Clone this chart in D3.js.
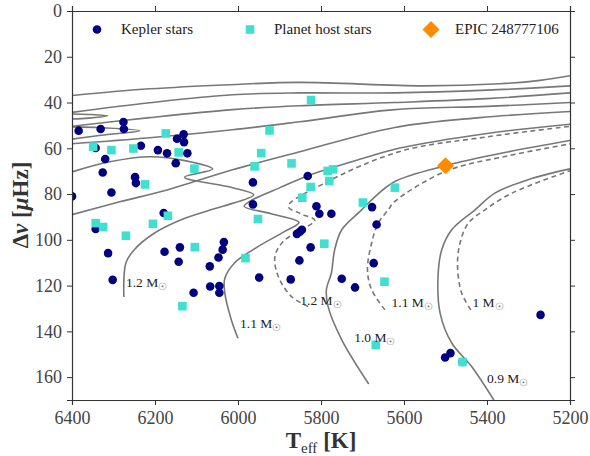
<!DOCTYPE html>
<html>
<head>
<meta charset="utf-8">
<script src="https://cdn.jsdelivr.net/npm/d3@7"></script>
<style>
  body { margin: 0; background: #fff; }
  text { font-family: "Liberation Serif", "DejaVu Serif", serif; }
</style>
</head>
<body>
<svg></svg>
<script>
// Kepler stars [Teff, dnu]
const keplerStars = [
  [6384,52.3],[6331,51.6],[6276,48.5],[6275,51.6],[6343,59.9],[6320,64.7],[6326,70.6],[6305,79.3],
  [6400,81.0],[6234,58.9],[6193,60.8],[6171,62.2],[6147,55.8],[6131,53.9],[6130,57.3],[6122,62.2],
  [6150,66.5],[6248,72.6],[6246,75.2],[6179,88.3],[6343,95.3],[6313,105.8],[6302,117.5],[6177,105.2],
  [6140,103.3],[6143,109.6],[6107,123.1],[6034,101.0],[6037,104.3],[6047,107.7],[6068,111.6],[6067,120.4],
  [6045,120.2],[6045,123.1],[5964,74.9],[5964,84.5],[5832,72.1],[5811,85.3],[5804,88.6],[5775,88.6],
  [5677,85.7],[5858,97.4],[5851,96.5],[5846,95.6],[5825,103.3],[5852,109.0],[5949,116.5],[5873,117.3],
  [5750,117.0],[5718,120.8],[5666,93.3],[5673,110.2],[5271,132.8],[5501,151.4],[5488,149.5],[5459,153.4]
];
// planet host stars [Teff, dnu]
const hostStars = [
  [6349,59.3],[6305,60.8],[6252,60.1],[6174,53.5],[6143,61.8],[6105,68.9],[6224,75.8],[6169,89.5],
  [6343,92.7],[6325,94.4],[6270,98.2],[6205,93.0],[6104,103.2],[6134,129.0],[5824,38.9],[5924,52.2],
  [5944,62.1],[5960,67.9],[5871,66.6],[5784,69.9],[5771,69.2],[5780,74.3],[5825,76.9],[5845,81.6],
  [5699,83.7],[5622,77.2],[5952,90.9],[5982,108.0],[5792,101.7],[5647,118.3],[5668,145.9],[5459,153.4]
];
const epic = [[5500,67.6]];

// model tracks [Teff, dnu], solid
const trackSolid = [
  [[6400,36.9],[6213,34.0],[6020,32.2],[5851,31.2],[5554,32.7],[5369,31.8],[5272,30.3],[5200,28.3]],
  [[6400,44.3],[6213,40.1],[6013,36.6],[5851,35.8],[5622,35.8],[5400,34.6],[5200,32.7]],
  [[6420,47.3],[6360,46.8],[6314,45.8],[6360,45.2],[6420,45.0]],
  [[6400,50.4],[6213,46.6],[6013,43.1],[5851,41.4],[5622,40.0],[5400,38.3],[5200,35.8]],
  [[6420,56.5],[6330,54.3],[6237,52.3],[6330,51.0],[6420,50.6]],
  [[6400,58.0],[6213,55.4],[6013,51.9],[5851,48.4],[5622,43.1],[5400,41.7],[5200,40.0]],
  [[6400,70.3],[6309,65.9],[6213,63.7],[6128,65.4],[6061,69.1],[6129,72.6],[6013,77.2],[5962,80.3],
   [6032,85.1],[6066,86.9],[6137,91.2],[6201,97],[6250,104.3],[6270,110],[6275,125]],
  [[6400,89.0],[6285,83.4],[6169,78.1],[6013,69.4],[5851,61.5],[5622,50.9],[5417,46.6],[5200,43.9]],
  [[6000,143],[6016,135],[6032,123],[6032,117],[6008,110],[5952,103],[5887,96.3],[5853,92.4],
   [5920,88.6],[5985,85.4],[5972,83.2],[5900,77.3],[5831,72.0],[5700,64.5],[5610,59.9],[5400,53.5],[5200,49.5]],
  [[5685,163],[5750,143.7],[5783,129.1],[5787,121.8],[5775,114.5],[5767,104.3],[5750,95.6],[5702,86.9],
   [5678,82.5],[5622,74.5],[5500,67.6],[5350,61.6],[5200,56.6]],
  [[5370,174],[5437,155.4],[5485,145.1],[5513,132],[5518,116],[5509,104.3],[5485,95.6],[5429,86.9],
   [5381,79.6],[5301,73.7],[5200,69.0]]
];
// model tracks [Teff, dnu], dashed
const trackDashed = [
  [[5831,129.1],[5871,124.8],[5903,116],[5911,107.3],[5891,100.7],[5847,95.6],[5815,91.5],[5850,88.5],
   [5879,85.4],[5791,75.2],[5610,61.4],[5400,55.0],[5200,50.4]],
  [[5646,130.6],[5678,121.8],[5688,113.1],[5678,101.4],[5662,92.7],[5638,86.9],[5622,83.2],[5500,70.1],
   [5350,63.3],[5200,58.1]],
  [[5439,130.6],[5461,123.3],[5471,111.6],[5465,101.4],[5445,92.7],[5405,86.9],[5340,79.6],[5200,69.8]]
];
const trackLabels = [
  {t: 6270, d: 120.5, m: '1.2'},
  {t: 5995, d: 138.5, m: '1.1'},
  {t: 5850, d: 128.5, m: '1.2'},
  {t: 5720, d: 144.5, m: '1.0'},
  {t: 5630, d: 129.5, m: '1.1'},
  {t: 5435, d: 129.5, m: '1'},
  {t: 5400, d: 162.5, m: '0.9'}
];
const xTicks = [6400, 6200, 6000, 5800, 5600, 5400, 5200];
const yTicks = [0, 20, 40, 60, 80, 100, 120, 140, 160];

const width = 590, height = 456;
const margin = {left: 72, right: 20, top: 11, bottom: 56};
const w = width - margin.left - margin.right;
const h = height - margin.top - margin.bottom;

const svg = d3.select('svg').attr('width', width).attr('height', height);
const g = svg.append('g').attr('transform', 'translate(' + margin.left + ',' + margin.top + ')');

const x = d3.scaleLinear().domain([6400, 5200]).range([0, w]);
const y = d3.scaleLinear().domain([0, 170]).range([0, h]);

g.append('clipPath').attr('id', 'clip')
  .append('rect').attr('width', w).attr('height', h);

const line = d3.line().x(d => x(d[0])).y(d => y(d[1])).curve(d3.curveCatmullRom.alpha(0.5));
const plot = g.append('g').attr('clip-path', 'url(#clip)');

plot.selectAll('.solid').data(trackSolid).enter().append('path')
  .attr('fill', 'none').attr('stroke', '#777').attr('stroke-width', 1.6).attr('d', line);
plot.selectAll('.dashed').data(trackDashed).enter().append('path')
  .attr('fill', 'none').attr('stroke', '#777').attr('stroke-width', 1.6)
  .attr('stroke-dasharray', '5,3.5').attr('d', line);

const lab = g.selectAll('.lab').data(trackLabels).enter().append('text')
  .attr('x', d => x(d.t)).attr('y', d => y(d.d))
  .attr('font-size', 13.5).attr('fill', '#222');
lab.append('tspan').text(d => d.m + ' M');
lab.append('tspan').attr('dy', 3).attr('font-size', 10).attr('fill', '#666').text('\u2609');

plot.selectAll('.kep').data(keplerStars).enter().append('circle')
  .attr('cx', d => x(d[0])).attr('cy', d => y(d[1])).attr('r', 4.3).attr('fill', 'navy');
plot.selectAll('.host').data(hostStars).enter().append('rect')
  .attr('x', d => x(d[0]) - 4.3).attr('y', d => y(d[1]) - 4.3)
  .attr('width', 8.6).attr('height', 8.6).attr('fill', 'turquoise');
plot.selectAll('.epic').data(epic).enter().append('path')
  .attr('transform', d => 'translate(' + x(d[0]) + ',' + y(d[1]) + ')')
  .attr('d', 'M0,-8.5L8.5,0L0,8.5L-8.5,0Z').attr('fill', 'darkorange');

// axes
const axColor = '#333';
const xb = g.append('g').attr('transform', 'translate(0,' + h + ')')
  .call(d3.axisBottom(x).tickValues(xTicks).tickSize(5).tickPadding(6).tickFormat(d3.format('d')));
const xt = g.append('g').call(d3.axisTop(x).tickValues(xTicks).tickSize(5).tickFormat(''));
const yl = g.append('g')
  .call(d3.axisLeft(y).tickValues(yTicks).tickSize(5).tickPadding(5));
const yr = g.append('g').attr('transform', 'translate(' + w + ',0)')
  .call(d3.axisRight(y).tickValues(yTicks).tickSize(5).tickFormat(''));
[xb, xt, yl, yr].forEach(a => {
  a.select('.domain').attr('stroke', axColor).attr('stroke-width', 1.2);
  a.selectAll('.tick line').attr('stroke', axColor).attr('stroke-width', 1);
  a.selectAll('.tick text').attr('font-family', '"Liberation Serif", serif')
    .attr('font-size', 18).attr('fill', '#444');
});

// axis titles
const xlab = svg.append('text').attr('x', margin.left + w / 2).attr('y', 448)
  .attr('text-anchor', 'middle').attr('font-size', 23).attr('font-weight', 'bold').attr('fill', '#333');
xlab.append('tspan').text('T');
xlab.append('tspan').attr('dy', 5).attr('font-size', 15).attr('font-weight', 'normal').text('eff');
xlab.append('tspan').attr('dy', -5).text(' [K]');

const ylab = svg.append('text')
  .attr('transform', 'translate(28,205) rotate(-90)')
  .attr('text-anchor', 'middle').attr('font-size', 23).attr('font-weight', 'bold').attr('fill', '#333');
ylab.append('tspan').text('\u0394');
ylab.append('tspan').attr('font-style', 'italic').text('\u03bd');
ylab.append('tspan').text(' [');
ylab.append('tspan').attr('font-style', 'italic').text('\u03bc');
ylab.append('tspan').text('Hz]');

// legend
const legend = [
  {label: 'Kepler stars', x: 97, shape: 'circle'},
  {label: 'Planet host stars', x: 250, shape: 'square'},
  {label: 'EPIC 248777106', x: 431, shape: 'diamond'}
];
const lg = svg.append('g').selectAll('g').data(legend).enter().append('g')
  .attr('transform', d => 'translate(' + d.x + ',29.5)');
lg.filter(d => d.shape === 'circle').append('circle').attr('r', 4.3).attr('fill', 'navy');
lg.filter(d => d.shape === 'square').append('rect').attr('x', -4.3).attr('y', -4.3)
  .attr('width', 8.6).attr('height', 8.6).attr('fill', 'turquoise');
lg.filter(d => d.shape === 'diamond').append('path')
  .attr('d', 'M0,-8.5L8.5,0L0,8.5L-8.5,0Z').attr('fill', 'darkorange');
lg.append('text').attr('x', 24).attr('y', 4.5).attr('font-size', 15).attr('fill', '#222').text(d => d.label);
</script>
</body>
</html>
